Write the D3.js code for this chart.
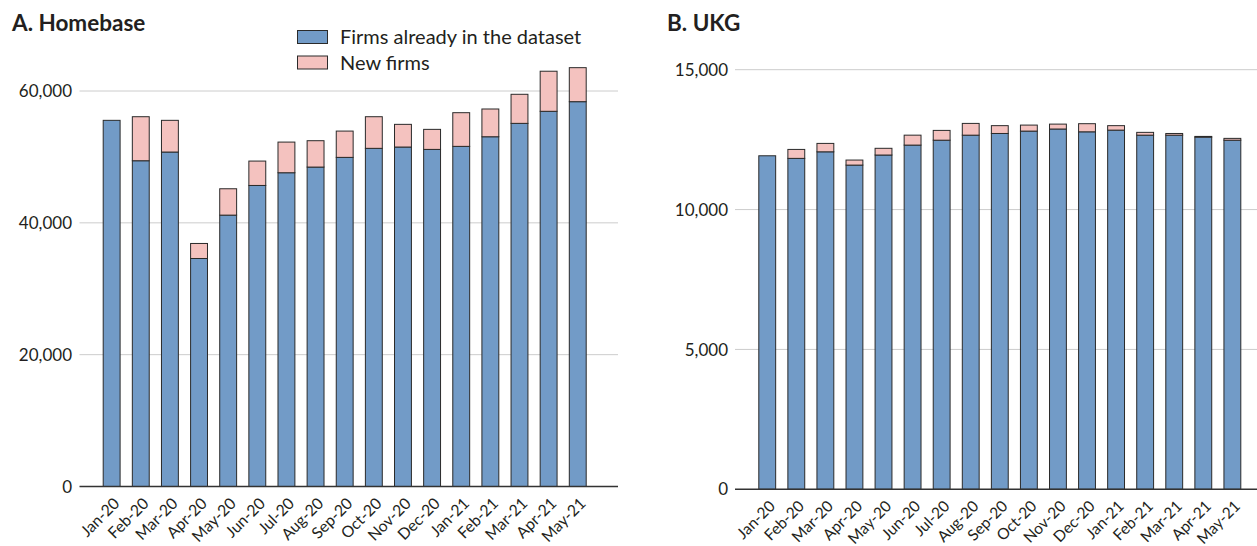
<!DOCTYPE html>
<html><head><meta charset="utf-8">
<script src="https://cdn.jsdelivr.net/npm/d3@7"></script>
<style>body{margin:0;background:#fff}svg{display:block}text{font-family:Lato,"Open Sans",sans-serif;fill:#231f20}</style>
</head><body><svg id="c" width="1257" height="546"></svg>
<script>
const months = ["Jan-20","Feb-20","Mar-20","Apr-20","May-20","Jun-20","Jul-20","Aug-20","Sep-20","Oct-20","Nov-20","Dec-20","Jan-21","Feb-21","Mar-21","Apr-21","May-21"];
// Homebase
const homebaseExisting = [55550,49420,50740,34590,41170,45670,47600,48460,49930,51300,51500,51140,51600,53060,55090,56920,58380];
const homebaseNew      = [0,6680,4810,2280,4000,3700,4650,4000,3990,4800,3440,3040,5110,4210,4410,6080,5160];
const homebaseTicks = [0,20000,40000,60000];
// UKG
const ukgExisting = [11923,11830,12065,11590,11950,12305,12480,12660,12720,12805,12880,12780,12840,12660,12660,12590,12480];
const ukgNew      = [0,320,300,180,240,355,350,420,280,215,175,290,160,100,60,25,65];
const ukgTicks = [0,5000,10000,15000];
const legendLabels = ["Firms already in the dataset","New firms"];
const colors = ["#729bc7","#f4c2bf"];

const svg = d3.select("#c");
const fmt = d3.format(",");

function panel(o){
  const g = svg.append("g");
  const x = d3.scaleBand().domain(months).range(o.band).paddingInner(0.42).paddingOuter(0);
  const y = d3.scaleLinear().domain([0,o.max]).range(o.yr);
  g.selectAll(".grid").data(o.ticks.filter(d=>d>0)).join("line")
    .attr("x1",o.ax[0]).attr("x2",o.ax[1]).attr("y1",d=>y(d)).attr("y2",d=>y(d))
    .attr("stroke","#cccccc").attr("stroke-width",1);
  g.selectAll(".yl").data(o.ticks).join("text")
    .attr("x",o.lx).attr("y",d=>y(d)).attr("dy","0.36em").attr("text-anchor","end")
    .attr("font-size",17).text(d=>fmt(d));
  const stacked = months.map((m,i)=>({m,a:o.ex[i],b:o.nw[i]}));
  g.selectAll(".b1").data(stacked).join("rect")
    .attr("x",d=>x(d.m)).attr("width",x.bandwidth())
    .attr("y",d=>y(d.a)).attr("height",d=>y(0)-y(d.a))
    .attr("fill",colors[0]).attr("stroke","#2a2a2a").attr("stroke-width",1);
  g.selectAll(".b2").data(stacked.filter(d=>d.b>0)).join("rect")
    .attr("x",d=>x(d.m)).attr("width",x.bandwidth())
    .attr("y",d=>y(d.a+d.b)).attr("height",d=>y(d.a)-y(d.a+d.b))
    .attr("fill",colors[1]).attr("stroke","#2a2a2a").attr("stroke-width",1);
  g.append("line").attr("x1",o.ax[0]).attr("x2",o.ax[1]).attr("y1",y(0)).attr("y2",y(0))
    .attr("stroke","#333").attr("stroke-width",1.5);
  g.selectAll(".xl").data(months).join("text")
    .attr("transform",d=>`translate(${x(d)+x.bandwidth()/2+5},${y(0)+14}) rotate(-45)`)
    .attr("text-anchor","end").attr("dy","0.35em").attr("font-size",o.xfs).text(d=>d);
  svg.append("text").attr("x",o.tx).attr("y",31).attr("font-size",22.5).attr("font-weight","bold").text(o.title);
}

panel({title:"A. Homebase",tx:12,band:[103.2,586.2],ax:[79.5,618],max:60000,yr:[486.5,91],ticks:homebaseTicks,lx:72,ex:homebaseExisting,nw:homebaseNew,xfs:15.8});
panel({title:"B. UKG",tx:667,band:[758.8,1240.8],ax:[735,1257],max:15000,yr:[489.3,69.7],ticks:ukgTicks,lx:728,ex:ukgExisting,nw:ukgNew,xfs:15.5});

const lg = svg.append("g");
legendLabels.forEach((l,i)=>{
  lg.append("rect").attr("x",297.5).attr("y",30.5+i*25.5).attr("width",30).attr("height",13)
    .attr("fill",colors[i]).attr("stroke","#2a2a2a").attr("stroke-width",1);
  lg.append("text").attr("x",340).attr("y",44+i*25.5).attr("font-size",20).text(l);
});
</script></body></html>
